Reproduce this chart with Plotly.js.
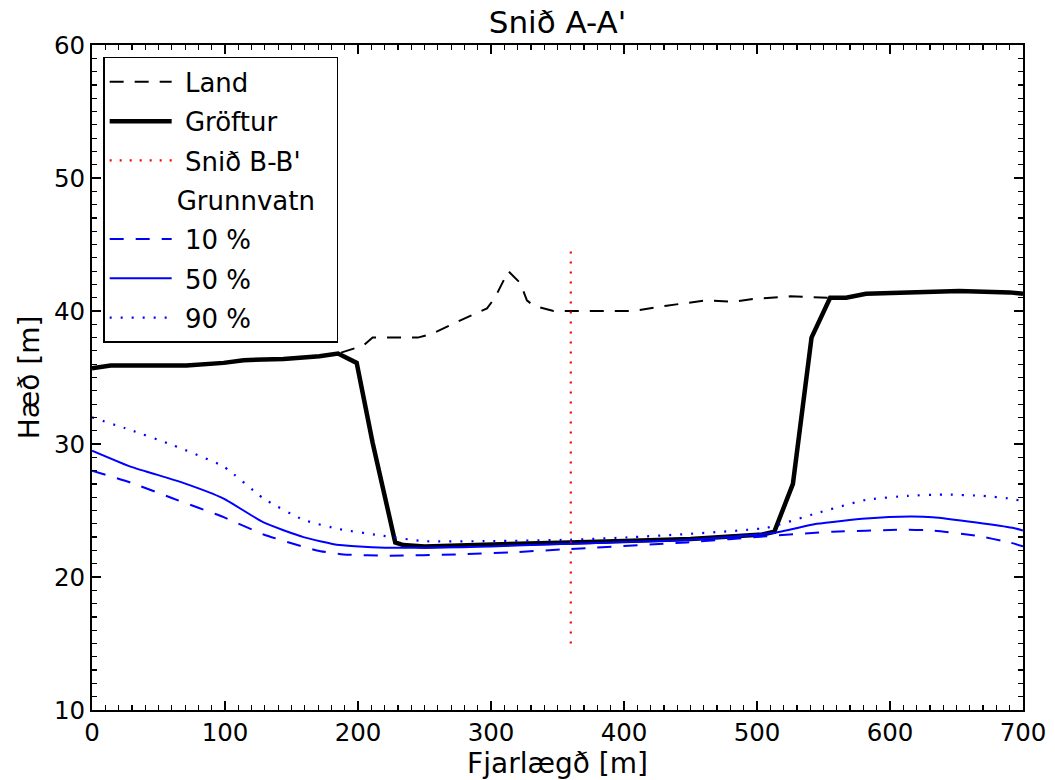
<!DOCTYPE html>
<html>
<head>
<meta charset="utf-8">
<script src="https://cdn.plot.ly/plotly-3.0.1.min.js"></script>
<style>html,body{margin:0;padding:0;background:#fff;}#chart{width:1055px;height:780px;}</style>
</head>
<body>
<div id="chart"></div>
<script>
// Land surface (dashed black)
var landX = [0, 14, 71, 99, 114, 144, 171, 185, 204, 211, 245, 256, 277, 297, 303, 313, 322, 327, 332, 347, 407, 432, 462, 482, 497, 525, 553, 567, 582, 652, 690, 700];
var landY = [35.7, 35.9, 35.9, 36.1, 36.3, 36.4, 36.6, 36.8, 37.4, 38.0, 38.0, 38.3, 39.3, 40.2, 41.0, 43.0, 42.1, 40.8, 40.4, 40.0, 40.0, 40.4, 40.8, 40.7, 40.9, 41.1, 41.0, 41.0, 41.3, 41.5, 41.4, 41.3];
// Ditches (thick black)
var ditchX = [0, 14, 71, 99, 114, 144, 171, 185, 199, 211, 228, 234, 250, 307, 359, 400, 450, 504, 513, 527, 541, 555, 567, 582, 652, 690, 700];
var ditchY = [35.7, 35.9, 35.9, 36.1, 36.3, 36.4, 36.6, 36.8, 36.1, 30.1, 22.6, 22.4, 22.3, 22.5, 22.6, 22.7, 22.85, 23.2, 23.4, 27.0, 38.0, 41.0, 41.0, 41.3, 41.5, 41.4, 41.3];
// Section B-B'
var sectionX = [360, 360];
var sectionY = [15, 45];
// Groundwater percentiles
var q10X = [0, 29, 61, 99, 129, 169, 189, 224, 274, 314, 359, 447, 512, 557, 607, 632, 665, 690, 700];
var q10Y = [28.0, 27.1, 25.9, 24.5, 23.2, 22.0, 21.7, 21.6, 21.7, 21.85, 22.1, 22.6, 23.1, 23.4, 23.55, 23.5, 23.1, 22.6, 22.3];
var q50X = [0, 29, 68, 99, 129, 159, 186, 224, 300, 359, 450, 512, 545, 582, 615, 632, 665, 692, 700];
var q50Y = [29.5, 28.3, 27.1, 25.9, 24.1, 23.0, 22.4, 22.2, 22.3, 22.5, 22.8, 23.3, 24.0, 24.4, 24.55, 24.5, 24.1, 23.7, 23.5];
var q90X = [0, 29, 61, 99, 129, 159, 186, 219, 249, 300, 359, 407, 507, 545, 582, 613, 640, 670, 690, 700];
var q90Y = [32.0, 31.05, 29.9, 28.3, 25.9, 24.3, 23.6, 23.1, 22.7, 22.7, 22.8, 23.0, 23.7, 24.8, 25.8, 26.1, 26.2, 26.1, 25.9, 25.7];

var names = ['Land', 'Gröftur', "Snið B-B'", 'Grunnvatn', '10 %', '50 %', '90 %'];
var ind = '\u00a0';

var traces = [
  {x: landX, y: landY, name: ind + names[0], mode: 'lines', legendgroup: 'a',
   line: {color: 'black', width: 2, dash: '14px,11px'}},
  {x: ditchX, y: ditchY, name: ind + names[1], mode: 'lines', legendgroup: 'b',
   line: {color: 'black', width: 4.5}},
  {x: sectionX, y: sectionY, name: ind + names[2], mode: 'lines', legendgroup: 'c',
   line: {color: 'red', width: 2.2, dash: '2px,8px'}},
  {x: [null], y: [null], name: names[3] + ind + ind, mode: 'lines', legendgroup: 'd',
   line: {color: 'rgba(0,0,0,0)', width: 0}},
  {x: q10X, y: q10Y, name: ind + names[4], mode: 'lines', legendgroup: 'e',
   line: {color: 'blue', width: 2, dash: '14px,12px', shape: 'spline', smoothing: 0.5}},
  {x: q50X, y: q50Y, name: ind + names[5], mode: 'lines', legendgroup: 'f',
   line: {color: 'blue', width: 2, shape: 'spline', smoothing: 0.5}},
  {x: q90X, y: q90Y, name: ind + names[6], mode: 'lines', legendgroup: 'g',
   line: {color: 'blue', width: 2.2, dash: '2px,9px', shape: 'spline', smoothing: 0.5}}
];

var font = {family: 'DejaVu Sans, sans-serif', color: 'black'};
var axisCommon = {
  showgrid: false, zeroline: false,
  showline: true, linecolor: 'black', linewidth: 2, mirror: 'ticks',
  ticks: 'inside', ticklen: 9, tickwidth: 1.3, tickcolor: 'black',
  tickfont: {family: font.family, size: 24.5, color: 'black'}
};

var layout = {
  width: 1055, height: 780,
  margin: {l: 92, r: 32, t: 45, b: 70},
  paper_bgcolor: 'white', plot_bgcolor: 'white',
  font: font,
  showlegend: true,
  title: {text: "Snið A-A'", font: {family: font.family, size: 31, color: 'black'},
          x: 0.5, xref: 'paper', y: 0.971, yref: 'container', yanchor: 'middle'},
  xaxis: Object.assign({}, axisCommon, {
    range: [0, 700], dtick: 100, tick0: 0,
    minor: {dtick: 10, ticks: 'inside', ticklen: 5, tickwidth: 1.2, tickcolor: 'black', showgrid: false},
    title: {text: 'Fjarlægð [m]', font: {family: font.family, size: 28, color: 'black'}, standoff: 2}
  }),
  yaxis: Object.assign({}, axisCommon, {
    range: [10, 60], dtick: 10, tick0: 10,
    minor: {dtick: 1, ticks: 'inside', ticklen: 5, tickwidth: 1.2, tickcolor: 'black', showgrid: false},
    title: {text: 'Hæð [m]', font: {family: font.family, size: 28, color: 'black'}, standoff: 6}
  }),
  legend: {
    x: 0.012, y: 0.982, xanchor: 'left', yanchor: 'top',
    bgcolor: 'white', bordercolor: 'black', borderwidth: 1.5,
    font: {family: font.family, size: 26, color: 'black'},
    tracegroupgap: 2.5, traceorder: 'grouped', itemwidth: 62
  }
};

Plotly.newPlot('chart', traces, layout, {displayModeBar: false, staticPlot: true});
</script>
</body>
</html>
